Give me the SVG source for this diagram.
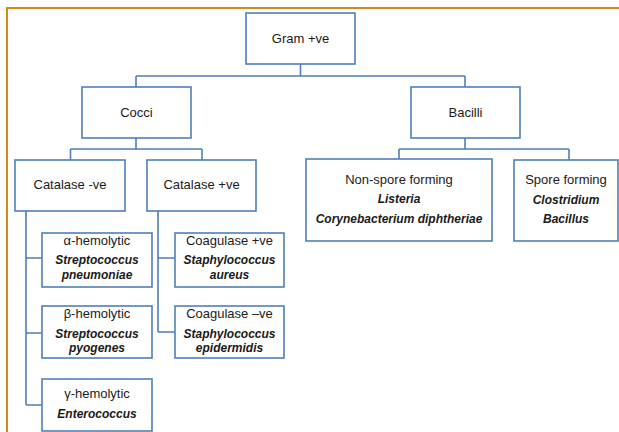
<svg xmlns="http://www.w3.org/2000/svg" width="619" height="432" viewBox="0 0 619 432">
<style>
.box{fill:#fff;stroke:#4f7fba;stroke-width:1.6}
.ln{fill:none;stroke:#4f7fba;stroke-width:1.6}
text{font-family:"Liberation Sans",Arial,sans-serif;font-size:13px;fill:#1a1a1a;text-anchor:middle}
.bi{font-weight:bold;font-style:italic;font-size:12px}
</style>
<rect x="0" y="0" width="619" height="432" fill="#fff"/>
<path d="M7,432 V8 H619" fill="none" stroke="#d9861a" stroke-width="2"/>
<g id="connectors">
<path class="ln" d="M300.5,64 V76 M136,76 H465 M136,76 V87 M465,76 V87"/>
<path class="ln" d="M136,138 V149 M70.5,149 H202 M70.5,149 V160 M202,149 V160"/>
<path class="ln" d="M465,138 V149 M399,149 H569 M399,149 V159 M569,149 V160"/>
<path class="ln" d="M26,211 V405 M26,258 H42 M26,333 H42 M26,405 H42"/>
<path class="ln" d="M158,211 V332 M158,258 H175 M158,332 H175"/>
</g>
<g id="gram"><rect class="box" x="246" y="13" width="109" height="51"/><text x="300.5" y="43">Gram +ve</text></g>
<g id="cocci"><rect class="box" x="82" y="87" width="109" height="51"/><text x="136.5" y="117">Cocci</text></g>
<g id="bacilli"><rect class="box" x="411" y="87" width="109" height="51"/><text x="465.5" y="117">Bacilli</text></g>
<g id="catneg"><rect class="box" x="15" y="160" width="110" height="51"/><text x="70" y="189">Catalase -ve</text></g>
<g id="catpos"><rect class="box" x="147" y="160" width="109" height="51"/><text x="201.5" y="189">Catalase +ve</text></g>
<g id="nonspore"><rect class="box" x="306" y="159" width="186" height="82"/><text x="399" y="184">Non-spore forming</text><text class="bi" x="399" y="203">Listeria</text><text class="bi" x="399" y="223">Corynebacterium diphtheriae</text></g>
<g id="spore"><rect class="box" x="514" y="160" width="104" height="81"/><text x="566" y="184">Spore forming</text><text class="bi" x="566" y="204">Clostridium</text><text class="bi" x="566" y="223">Bacillus</text></g>
<g id="alpha"><rect class="box" x="42" y="233" width="110" height="54"/><text x="97" y="245">α-hemolytic</text><text class="bi" x="97" y="264">Streptococcus</text><text class="bi" x="97" y="279">pneumoniae</text></g>
<g id="beta"><rect class="box" x="42" y="306" width="110" height="52"/><text x="97" y="318">β-hemolytic</text><text class="bi" x="97" y="338">Streptococcus</text><text class="bi" x="97" y="352">pyogenes</text></g>
<g id="gamma"><rect class="box" x="42" y="379" width="110" height="52"/><text x="97" y="398">γ-hemolytic</text><text class="bi" x="97" y="418">Enterococcus</text></g>
<g id="coagpos"><rect class="box" x="175" y="233" width="109" height="54"/><text x="229.5" y="245">Coagulase +ve</text><text class="bi" x="229.5" y="264">Staphylococcus</text><text class="bi" x="229.5" y="279">aureus</text></g>
<g id="coagneg"><rect class="box" x="175" y="306" width="109" height="52"/><text x="229.5" y="318">Coagulase –ve</text><text class="bi" x="229.5" y="338">Staphylococcus</text><text class="bi" x="229.5" y="352">epidermidis</text></g>
</svg>
